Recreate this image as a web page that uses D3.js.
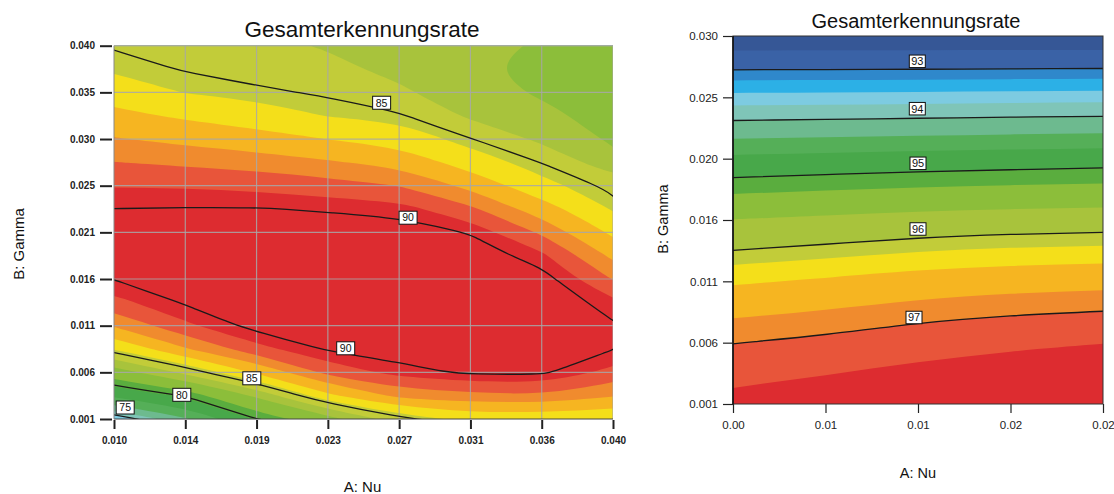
<!DOCTYPE html>
<html>
<head>
<meta charset="utf-8">
<script src="https://cdn.jsdelivr.net/npm/d3@7/dist/d3.min.js"></script>
<style>
html,body{margin:0;padding:0;background:#fff;}
svg{display:block;font-family:"Liberation Sans",Arial,sans-serif;}
</style>
</head>
<body>
<svg id="chart" width="1114" height="494"></svg>
<script>
// ================= DATA =================
// Shared colour palette (low -> high response)
const palette = ["#365796","#3a62a6","#2f88cb","#2cb0e6","#7dcbe1","#7fc5b8","#6dba8f","#55af58",
                 "#48a84a","#5aad3e","#8cbe3a","#a8c33c","#c2cc39","#f4df1a","#f6b521","#f08b2e",
                 "#e8553a","#dd2c30"];

// ---- Left panel ----
const leftNu = [0.010, 0.014286, 0.018571, 0.022857, 0.027143, 0.031429, 0.035714, 0.040];
const leftNuLabels = ["0.010","0.014","0.019","0.023","0.027","0.031","0.036","0.040"];
const leftGamma = [0.001, 0.003438, 0.005875, 0.008313, 0.01075, 0.013188, 0.015625, 0.018063, 0.0205,
                   0.022938, 0.025375, 0.027813, 0.03025, 0.032688, 0.035125, 0.037563, 0.040];
const leftGammaTicks = [0.001, 0.005875, 0.01075, 0.015625, 0.0205, 0.025375, 0.03025, 0.035125, 0.040];
const leftGammaLabels = ["0.001","0.006","0.011","0.016","0.021","0.025","0.030","0.035","0.040"];
// Gesamterkennungsrate, rows = leftGamma (ascending), columns = leftNu
const leftRate = [
  [74.2, 76.6, 79.98, 82.3, 84.7, 85.8, 85.7, 85.6],
  [78.45, 80.1, 83.1, 86.24, 87.9, 88.23, 88.45, 87.69],
  [82.07, 84.33, 86.69, 88.8, 89.71, 90.15, 90.15, 89.13],
  [85.5, 87.5, 89.09, 90.1, 90.4, 90.75, 90.7, 90.02],
  [87.7, 89.21, 90.3, 90.6, 90.8, 91.0, 90.85, 90.1],
  [89.12, 90.1, 90.7, 90.9, 91.0, 91.05, 90.7, 89.6],
  [90.02, 90.55, 90.85, 91.0, 91.0, 90.9, 90.35, 88.44],
  [90.5, 90.7, 90.8, 90.8, 90.8, 90.5, 89.6, 87.38],
  [90.5, 90.55, 90.55, 90.45, 90.4, 89.95, 88.35, 86.28],
  [90.01, 90.05, 90.05, 89.92, 89.75, 88.69, 87.04, 85.31],
  [89.35, 89.32, 89.18, 88.88, 88.48, 87.33, 85.7, 84.8],
  [88.52, 88.32, 88.08, 87.72, 87.27, 85.94, 84.97, 83.24],
  [87.67, 87.32, 86.97, 86.48, 85.99, 85.05, 83.74, 82.6],
  [86.81, 86.32, 85.85, 85.36, 85.12, 83.8, 83.11, 82.3],
  [85.95, 85.36, 85.13, 84.9, 84.2, 83.3, 82.65, 82.1],
  [85.28, 84.95, 84.7, 84.3, 83.7, 83.0, 82.5, 82.0],
  [84.93, 84.55, 84.3, 83.9, 83.3, 83.05, 82.7, 81.9]
];
const leftBands = [71.0, 72.5, 73.5, 74.3, 75.0, 75.7, 76.8, 78.2, 79.8, 81.0, 82.8, 84.0, 85.4, 86.5, 87.6, 88.5, 89.4];
const leftLines = [75, 80, 85, 90];
const leftLabelText = ["85", "90", "90", "85", "80", "75"];
const leftLabelNu = [0.02609, 0.02768, 0.02393, 0.018285, 0.014076, 0.010673];
const leftLabelGamma = [0.03404, 0.02203, 0.008386, 0.005252, 0.003528, 0.002201];

// ---- Right panel ----
const rightNu = [0.000, 0.005, 0.010, 0.015, 0.020];
const rightNuLabels = ["0.00","0.01","0.01","0.02","0.02"];
const rightGamma = [0.001, 0.005833, 0.010667, 0.0155, 0.020333, 0.025167, 0.030];
const rightGammaLabels = ["0.001","0.006","0.011","0.016","0.020","0.025","0.030"];
const rightRate = [
  [97.55, 97.68, 97.8, 97.9, 97.95],
  [96.99, 97.08, 97.22, 97.32, 97.39],
  [96.36, 96.44, 96.54, 96.60, 96.63],
  [95.65, 95.71, 95.78, 95.82, 95.84],
  [94.71, 94.75, 94.79, 94.82, 94.85],
  [93.57, 93.58, 93.59, 93.61, 93.62],
  [92.3, 92.3, 92.3, 92.3, 92.3]
];
const rightBands = [92.6, 93.0, 93.22, 93.48, 93.72, 94.0, 94.34, 94.64, 95.0, 95.25, 95.64, 96.0, 96.17, 96.4, 96.74, 97.0, 97.4];
const rightLines = [93, 94, 95, 96, 97];
const rightLabelText = ["93", "94", "95", "96", "97"];
const rightLabelNu = [0.009962, 0.009962, 0.01, 0.01, 0.009784];
const rightLabelGamma = [0.028006, 0.024271, 0.019968, 0.014791, 0.007817];

const titleText = "Gesamterkennungsrate";

// ================= DRAWING =================
const svg = d3.select("#chart");
const smooth = d3.line().curve(d3.curveBasisClosed);

function ringsPath(mp, toPx) {
  let s = "";
  mp.coordinates.forEach(poly => poly.forEach(ring => {
    const pts = ring.slice(0, ring.length - 1).map(toPx);
    if (pts.length > 2) s += smooth(pts);
  }));
  return s;
}

function panel(cfg) {
  const g = svg.append("g");
  const x = d3.scaleLinear().domain([cfg.nu[0], cfg.nu[cfg.nu.length - 1]]).range([cfg.left, cfg.right]);
  const y = d3.scaleLinear().domain([cfg.gamma[0], cfg.gamma[cfg.gamma.length - 1]]).range([cfg.bottom, cfg.top]);
  const nx = cfg.nu.length, ny = cfg.gamma.length;
  // sample lookup with linear extension one step beyond the frame (outside the clipped area)
  const val = (i, j) => {
    const ci = Math.max(0, Math.min(nx - 1, i)), cj = Math.max(0, Math.min(ny - 1, j));
    let v = cfg.grid[cj][ci];
    if (i < 0) v += cfg.grid[cj][0] - cfg.grid[cj][1];
    if (i > nx - 1) v += cfg.grid[cj][nx - 1] - cfg.grid[cj][nx - 2];
    if (j < 0) v += cfg.grid[0][ci] - cfg.grid[1][ci];
    if (j > ny - 1) v += cfg.grid[ny - 1][ci] - cfg.grid[ny - 2][ci];
    return v;
  };
  const px = nx + 2, py = ny + 2;
  const values = [];
  for (let r = 0; r < py; r++) {
    const j = ny - r;
    for (let c = 0; c < px; c++) values.push(val(c - 1, j));
  }
  const ix = d3.scaleLinear().domain(d3.range(nx)).range(cfg.nu);
  const iy = d3.scaleLinear().domain(d3.range(ny)).range(cfg.gamma);
  const toPx = p => [x(ix(p[0] - 1.5)), y(iy(ny - (p[1] - 0.5)))];

  const clipId = "clip" + cfg.id;
  g.append("clipPath").attr("id", clipId).append("rect")
    .attr("x", cfg.left).attr("y", cfg.top)
    .attr("width", cfg.right - cfg.left).attr("height", cfg.bottom - cfg.top);
  const plot = g.append("g").attr("clip-path", `url(#${clipId})`);

  plot.append("rect").attr("x", cfg.left).attr("y", cfg.top)
    .attr("width", cfg.right - cfg.left).attr("height", cfg.bottom - cfg.top)
    .attr("fill", palette[0]);
  const bands = d3.contours().size([px, py]).thresholds(cfg.bands)(values);
  plot.selectAll("path.band").data(bands).join("path")
    .attr("class", "band")
    .attr("d", d => ringsPath(d, toPx))
    .attr("fill", (d, i) => palette[i + 1])
    .attr("fill-rule", "evenodd");

  if (cfg.grid_lines) {
    plot.selectAll("line.gx").data(cfg.nu.filter((d, i) => i > 0)).join("line").attr("class", "gx")
      .attr("x1", d => x(d)).attr("x2", d => x(d)).attr("y1", cfg.top).attr("y2", cfg.bottom)
      .attr("stroke", "#a8a8a8").attr("stroke-width", 1.2).attr("opacity", 0.85);
    plot.selectAll("line.gy").data(cfg.gammaTicks.filter((d, i) => i > 0)).join("line").attr("class", "gy")
      .attr("y1", d => y(d)).attr("y2", d => y(d)).attr("x1", cfg.left).attr("x2", cfg.right)
      .attr("stroke", "#a8a8a8").attr("stroke-width", 1.2).attr("opacity", 0.85);
  }

  const lines = d3.contours().size([px, py]).thresholds(cfg.lines)(values);
  plot.selectAll("path.iso").data(lines).join("path")
    .attr("class", "iso")
    .attr("d", d => ringsPath(d, toPx))
    .attr("fill", "none").attr("stroke", "#1a1a1a").attr("stroke-width", 1.3);

  cfg.labelText.forEach((t, i) => {
    const cx = x(cfg.labelNu[i]), cy = y(cfg.labelGamma[i]);
    g.append("rect").attr("x", cx - cfg.lw / 2).attr("y", cy - cfg.lh / 2)
      .attr("width", cfg.lw).attr("height", cfg.lh)
      .attr("fill", "#fff").attr("stroke", "#111").attr("stroke-width", 1);
    g.append("text").attr("x", cx).attr("y", cy).attr("dy", "0.36em")
      .attr("text-anchor", "middle").attr("font-size", cfg.labelFont)
      .attr("font-family", cfg.tickFamily).attr("fill", "#111").text(t);
  });

  return { g, x, y };
}

// ---------- Left ----------
const L = panel({
  id: "L", nu: leftNu, gamma: leftGamma, grid: leftRate, bands: leftBands, lines: leftLines,
  gammaTicks: leftGammaTicks, grid_lines: true,
  left: 114, right: 613, top: 45.7, bottom: 419,
  labelText: leftLabelText, labelNu: leftLabelNu, labelGamma: leftLabelGamma,
  lw: 18, lh: 13, labelFont: 10.5, tickFamily: "Liberation Sans, Arial, sans-serif"
});
L.g.append("line").attr("x1", 114).attr("x2", 613).attr("y1", 419).attr("y2", 419)
  .attr("stroke", "#444").attr("stroke-width", 1);
L.g.append("line").attr("x1", 114).attr("x2", 114).attr("y1", 45.7).attr("y2", 419)
  .attr("stroke", "#888").attr("stroke-width", 1);
L.g.append("line").attr("x1", 114).attr("x2", 613).attr("y1", 45.7).attr("y2", 45.7)
  .attr("stroke", "#aaa").attr("stroke-width", 1);

const lyAxis = d3.axisLeft(L.y).tickValues(leftGammaTicks)
  .tickFormat((d, i) => leftGammaLabels[i]).tickSize(12).tickPadding(5);
const lyG = svg.append("g").attr("transform", "translate(112,0)").call(lyAxis);
const lxAxis = d3.axisBottom(L.x).tickValues(leftNu)
  .tickFormat((d, i) => leftNuLabels[i]).tickSize(9).tickPadding(8);
const lxG = svg.append("g").attr("transform", "translate(0,420)").call(lxAxis);
[lyG, lxG].forEach(a => {
  a.select(".domain").remove();
  a.selectAll(".tick line").attr("stroke", "#222").attr("stroke-width", 2);
  a.selectAll(".tick text").attr("font-size", 10).attr("font-weight", "bold")
    .attr("font-family", "Liberation Sans, Arial, sans-serif").attr("fill", "#222");
});

svg.append("text").attr("x", 362).attr("y", 37).attr("text-anchor", "middle")
  .attr("font-size", 22.5).attr("fill", "#111").text(titleText);
svg.append("text").attr("transform", "translate(24,244) rotate(-90)").attr("text-anchor", "middle")
  .attr("font-size", 15).attr("fill", "#111").text("B: Gamma");
svg.append("text").attr("x", 362.5).attr("y", 492).attr("text-anchor", "middle")
  .attr("font-size", 15).attr("fill", "#111").text("A: Nu");

// ---------- Right ----------
const narrow = "Liberation Sans Narrow, Arial Narrow, Liberation Sans, sans-serif";
const R = panel({
  id: "R", nu: rightNu, gamma: rightGamma, grid: rightRate, bands: rightBands, lines: rightLines,
  gammaTicks: rightGamma, grid_lines: false,
  left: 733, right: 1103, top: 36, bottom: 404,
  labelText: rightLabelText, labelNu: rightLabelNu, labelGamma: rightLabelGamma,
  lw: 16, lh: 12.5, labelFont: 11, tickFamily: narrow
});
R.g.append("rect").attr("x", 733).attr("y", 36).attr("width", 370).attr("height", 368)
  .attr("fill", "none").attr("stroke", "#333").attr("stroke-width", 1);
R.g.append("line").attr("x1", 733).attr("x2", 733).attr("y1", 36).attr("y2", 404)
  .attr("stroke", "#111").attr("stroke-width", 1.6);

const ryAxis = d3.axisLeft(R.y).tickValues(rightGamma)
  .tickFormat((d, i) => rightGammaLabels[i]).tickSize(10).tickPadding(5);
const ryG = svg.append("g").attr("transform", "translate(733,0)").call(ryAxis);
const rxAxis = d3.axisBottom(R.x).tickValues(rightNu)
  .tickFormat((d, i) => rightNuLabels[i]).tickSize(9).tickPadding(8);
const rxG = svg.append("g").attr("transform", "translate(0,404)").call(rxAxis);
[ryG, rxG].forEach(a => {
  a.select(".domain").remove();
  a.selectAll(".tick line").attr("stroke", "#222").attr("stroke-width", 1.2);
  a.selectAll(".tick text").attr("font-size", 11.5).attr("font-family", narrow).attr("fill", "#222");
});

svg.append("text").attr("x", 916).attr("y", 27.5).attr("text-anchor", "middle")
  .attr("font-size", 20).attr("fill", "#111").text(titleText);
svg.append("text").attr("transform", "translate(668,219) rotate(-90)").attr("text-anchor", "middle")
  .attr("font-size", 14.5).attr("fill", "#111").text("B: Gamma");
svg.append("text").attr("x", 918).attr("y", 478).attr("text-anchor", "middle")
  .attr("font-size", 14.5).attr("fill", "#111").text("A: Nu");
</script>
</body>
</html>
